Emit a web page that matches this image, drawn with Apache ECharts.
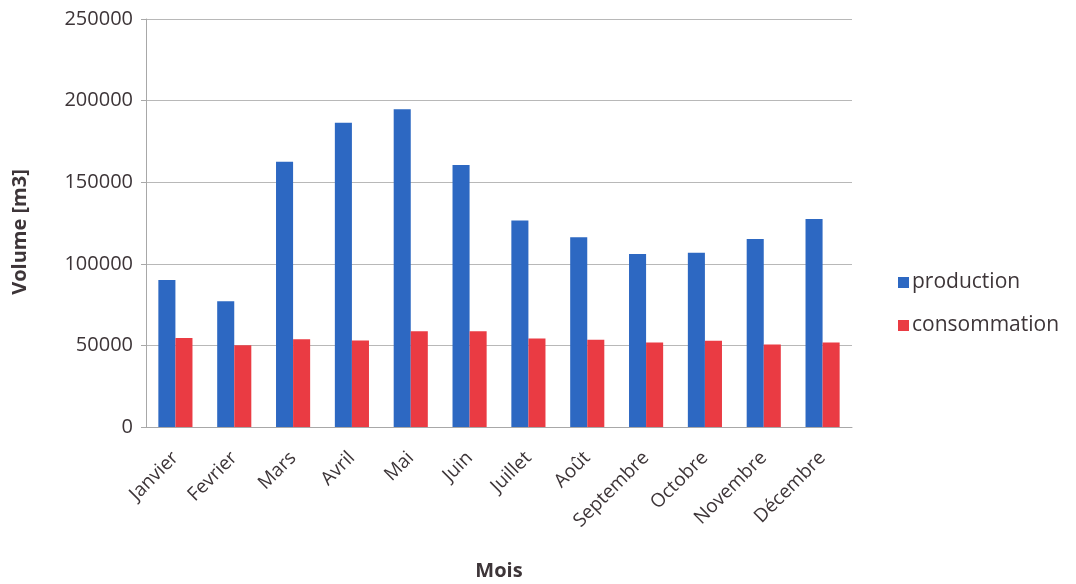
<!DOCTYPE html>
<html>
<head>
<meta charset="utf-8">
<script src="https://cdn.jsdelivr.net/npm/echarts@6/dist/echarts.min.js"></script>
<style>
html,body{margin:0;padding:0;background:#fff;}
#c{width:1076px;height:584px;}
</style>
</head>
<body>
<div id="c"></div>
<script>
const months = ['Janvier','Fevrier','Mars','Avril','Mai','Juin','Juillet','Août','Septembre','Octobre','Novembre','Décembre'];
const production = [90000, 77000, 162500, 186500, 194700, 160500, 126500, 116200, 106000, 106800, 115200, 127500];
const consommation = [54500, 50100, 53800, 53000, 58600, 58600, 54300, 53400, 51800, 52900, 50500, 51800];
const yTicks = [0, 50000, 100000, 150000, 200000, 250000];

const font = 'Open Sans';
const textColor = '#3d3538';
const chart = echarts.init(document.getElementById('c'), null, {renderer:'canvas'});
chart.setOption({
  animation: false,
  backgroundColor: '#fff',
  grid: {left: 146, right: 224, top: 19, bottom: 157, containLabel: false, outerBoundsMode: 'none'},
  legend: {
    orient: 'vertical', left: 893, top: 267,
    icon: 'rect', itemWidth: 11, itemHeight: 11, itemGap: 22,
    textStyle: {fontFamily: font, fontSize: 21, color: textColor, padding: [0,0,0,-2]},
    data: ['production','consommation']
  },
  xAxis: {
    type: 'category', data: months,
    name: 'Mois', nameLocation: 'middle', nameGap: 134,
    nameTextStyle: {fontFamily: font, fontSize: 20, fontWeight: 'bold', color: textColor},
    axisLine: {lineStyle: {color: '#a8a8a8', width: 1}},
    axisTick: {show: false},
    axisLabel: {rotate: 45, margin: 28, fontFamily: font, fontSize: 19, color: textColor, interval: 0}
  },
  yAxis: {
    type: 'value', min: 0, max: 250000, interval: 50000,
    name: 'Volume [m3]', nameLocation: 'middle', nameGap: 116,
    nameTextStyle: {fontFamily: font, fontSize: 20, fontWeight: 'bold', color: textColor, padding: [0,0,0,-18]},
    axisLine: {show: true, lineStyle: {color: '#a8a8a8', width: 1}},
    axisTick: {show: true, length: 5, lineStyle: {color: '#a8a8a8'}},
    axisLabel: {margin: 13, fontFamily: font, fontSize: 20, color: textColor,
      formatter: v => yTicks.includes(v) ? String(v) : ''},
    splitLine: {show: true, lineStyle: {color: '#b8b8b8', width: 1}}
  },
  series: [
    {name: 'production', type: 'bar', data: production, barGap: '0%', barCategoryGap: '42%',
     itemStyle: {color: '#2d68c2'}},
    {name: 'consommation', type: 'bar', data: consommation,
     itemStyle: {color: '#ea3b43'}}
  ]
});
</script>
</body>
</html>
